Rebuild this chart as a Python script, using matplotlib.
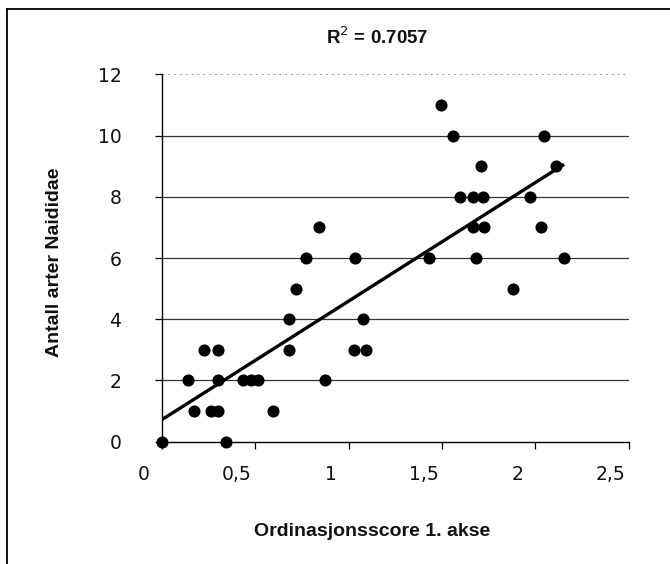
import matplotlib
matplotlib.use("Agg")
import matplotlib.pyplot as plt
import matplotlib.transforms as mtransforms
from matplotlib.lines import Line2D
from matplotlib import font_manager
import numpy as np

# ---- data ----
x_score = [0.0, 0.344,
           0.175, 0.262, 0.302, 0.594,
           0.139, 0.300, 0.433, 0.476, 0.517, 0.876,
           0.228, 0.300, 0.683, 1.029, 1.094,
           0.683, 1.076,
           0.719, 1.882,
           0.772, 1.035, 1.433, 1.683, 2.154,
           0.842, 1.665, 1.727, 2.032,
           1.597, 1.665, 1.718, 1.972,
           1.708, 2.111,
           1.558, 2.047,
           1.494]
y_species = [0, 0,
             1, 1, 1, 1,
             2, 2, 2, 2, 2, 2,
             3, 3, 3, 3, 3,
             4, 4,
             5, 5,
             6, 6, 6, 6, 6,
             7, 7, 7, 7,
             8, 8, 8, 8,
             9, 9,
             10, 10,
             11]
x_ticks = [0, 0.5, 1, 1.5, 2, 2.5]
x_ticklabels = ["0", "0,5", "1", "1,5", "2", "2,5"]
y_ticks = [0, 2, 4, 6, 8, 10, 12]
title_text = "R$^{2}$ = 0.7057"
xlabel_text = "Ordinasjonsscore 1. akse"
ylabel_text = "Antall arter Naididae"

# ---- fonts ----
avail = {f.name for f in font_manager.fontManager.ttflist}
bold_family = "Liberation Sans Narrow" if "Liberation Sans Narrow" in avail else "Liberation Sans"
tick_family = "DejaVu Sans"

W, H = 670, 564
fig = plt.figure(figsize=(W / 100, H / 100), dpi=100)
left, right = 161.7 / W, 628.7 / W
bottom, top = 1 - 441.7 / H, 1 - 74.3 / H
ax = fig.add_axes([left, bottom, right - left, top - bottom])

xs = np.array(x_score)
ys = np.array(y_species)

# gridlines
for yv in y_ticks[1:-1]:
    ax.axhline(yv, color="#333333", lw=0.9, zorder=1)
ax.axhline(y_ticks[-1], color="#999999", lw=0.7, ls=(0, (2, 4)), zorder=1)

# regression line
slope, intercept = np.polyfit(xs, ys, 1)
xl = np.array([xs.min(), xs.max()])
ax.plot(xl, slope * xl + intercept, color="black", lw=2.4, zorder=3,
        solid_capstyle="butt")

# points
ax.scatter(xs, ys, s=76, color="black", zorder=4, clip_on=False, linewidths=0)

ax.set_xlim(0, 2.5)
ax.set_ylim(0, 12)
ax.set_xticks(x_ticks)
ax.set_xticklabels(x_ticklabels)
ax.set_yticks(y_ticks)

for s in ["top", "right"]:
    ax.spines[s].set_visible(False)
for s in ["left", "bottom"]:
    ax.spines[s].set_color("black")
    ax.spines[s].set_linewidth(1.0)

ax.tick_params(axis="both", direction="out", length=5, width=0.9, color="black",
               labelsize=13.5)
ax.tick_params(axis="x", pad=12)
ax.tick_params(axis="y", pad=24)
for lab in ax.get_xticklabels() + ax.get_yticklabels():
    lab.set_family(tick_family)
    lab.set_color("#111111")

# shift x tick labels slightly left as in reference
offset = mtransforms.ScaledTranslation(-18 / 100, 0, fig.dpi_scale_trans)
for lab in ax.get_xticklabels():
    lab.set_transform(lab.get_transform() + offset)

# texts
fig.text(377 / W, 1 - 37 / H, title_text, ha="center", va="center",
         fontsize=13.5, fontweight="bold", family=bold_family, color="#111111")
fig.text(372 / W, 1 - 531 / H, xlabel_text, ha="center", va="center",
         fontsize=14, fontweight="bold", family=bold_family, color="#111111")
fig.text(55 / W, 1 - 262 / H, ylabel_text, ha="center", va="center",
         rotation=90, fontsize=14, fontweight="bold", family=bold_family,
         color="#111111")

# chart border (left & top visible)
fig.add_artist(Line2D([7 / W, 7 / W], [0, 1 - 9 / H], color="black", lw=1.3))
fig.add_artist(Line2D([7 / W, 1], [1 - 9 / H, 1 - 9 / H], color="black", lw=1.3))

fig.savefig("out.png", dpi=100)
